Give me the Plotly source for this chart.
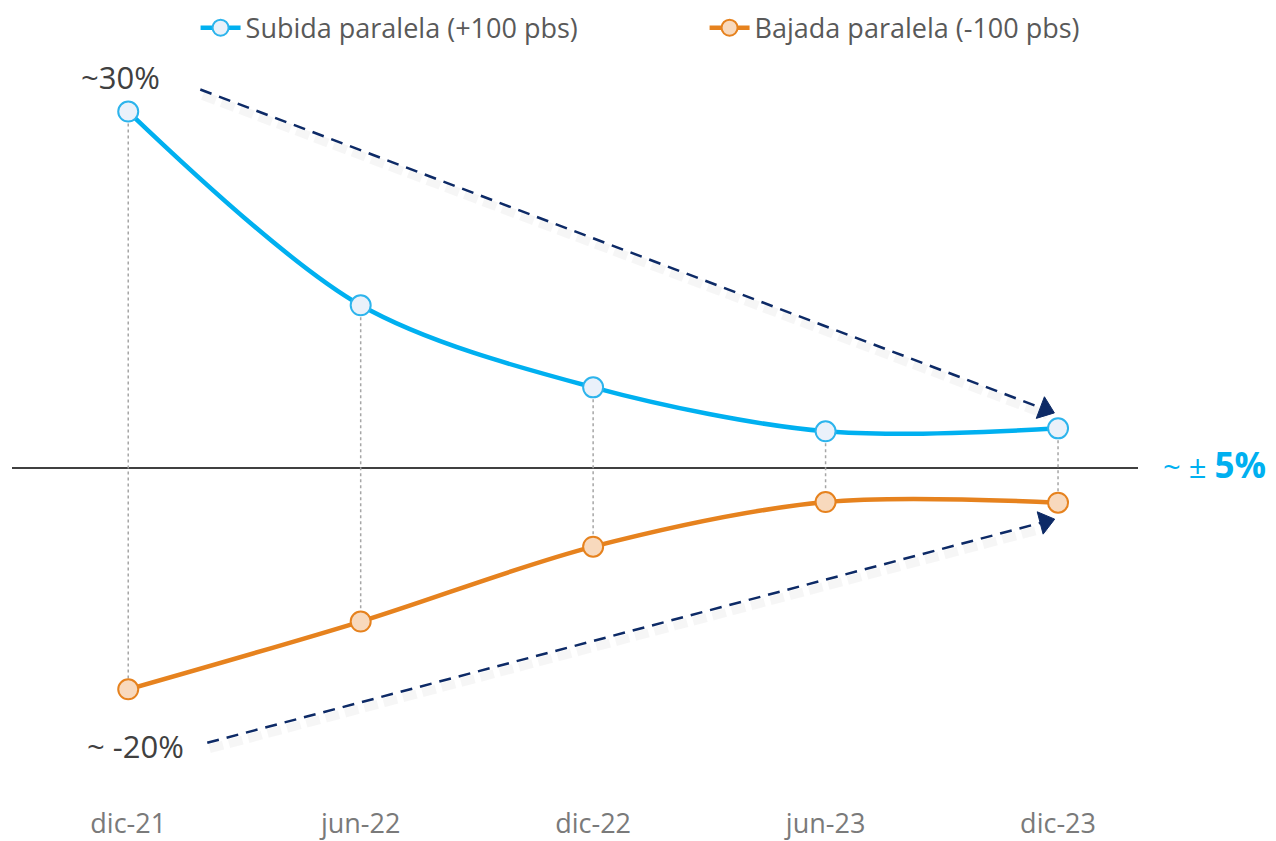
import plotly.graph_objects as go

categories = ["dic-21", "jun-22", "dic-22", "jun-23", "dic-23"]
subida = [30.0, 13.7, 6.8, 3.1, 3.35]
bajada = [-18.6, -12.9, -6.6, -2.85, -2.9]
series_names = ["Subida paralela (+100 pbs)", "Bajada paralela (-100 pbs)"]

xi = list(range(len(categories)))
FONT = "Open Sans"

fig = go.Figure()

# dotted vertical connectors
vx, vy = [], []
for i in xi:
    vx += [i, i, None]
    vy += [subida[i], bajada[i], None]
fig.add_trace(go.Scatter(x=vx, y=vy, mode="lines", showlegend=False, hoverinfo="skip",
                         line=dict(color="#A6A6A6", width=1.5, dash="dot")))

# trend arrows (annotation-style)
arrows = [
    dict(x=[0.31, 3.944], y=[31.85, 4.95]),
    dict(x=[0.34, 3.944], y=[-23.1, -4.5]),
]
for a in arrows:
    # soft shadow
    fig.add_trace(go.Scatter(x=[v + 0.01 for v in a["x"]], y=[v - 0.5 for v in a["y"]], mode="lines",
                             showlegend=False, hoverinfo="skip",
                             line=dict(color="rgba(0,0,0,0.035)", width=9, dash="14px,6px")))
    fig.add_trace(go.Scatter(x=a["x"], y=a["y"], mode="lines+markers", showlegend=False, hoverinfo="skip",
                             line=dict(color="#0D2A66", width=2.5, dash="12px,8px"),
                             marker=dict(symbol="triangle-up", size=[0, 20], angleref="previous",
                                         color="#0D2A66", opacity=1, line=dict(width=1, color="#0D2A66"))))

fig.add_trace(go.Scatter(x=xi, y=subida, name=series_names[0], mode="lines+markers",
                         line=dict(color="#00B0F0", width=4.5, shape="spline", smoothing=0.9),
                         marker=dict(size=20, color="#EAF1FA", line=dict(color="#2DB4EC", width=2))))
fig.add_trace(go.Scatter(x=xi, y=bajada, name=series_names[1], mode="lines+markers",
                         line=dict(color="#E6821E", width=4.5, shape="spline", smoothing=0.9),
                         marker=dict(size=20, color="#F8D9BD", line=dict(color="#E6821E", width=2))))

fig.add_annotation(x=-0.034, y=32.9, text="~30%", showarrow=False,
                   font=dict(family=FONT, size=31, color="#404040"))
fig.add_annotation(x=0.03, y=-23.4, text="~ -20%", showarrow=False,
                   font=dict(family=FONT, size=31, color="#404040"))
fig.add_annotation(xref="paper", x=1.068, xanchor="center", y=0.3,
                   text="~ ± <b><span style='font-size:35px'>5%</span></b>", showarrow=False,
                   font=dict(family=FONT, size=31, color="#00B0F0"))

fig.update_layout(
    width=1276, height=841,
    paper_bgcolor="white", plot_bgcolor="white",
    margin=dict(l=4, r=146, t=42, b=44),
    font=dict(family=FONT),
    legend=dict(orientation="h", xref="container", yref="container", x=0.147, xanchor="left",
                y=0.976, yanchor="middle", font=dict(family=FONT, size=27, color="#595959"),
                itemwidth=40, entrywidth=454, entrywidthmode="pixels", traceorder="normal"),
    xaxis=dict(range=[-0.5, 4.344], tickmode="array", tickvals=xi, ticktext=categories,
               showgrid=False, zeroline=False, showline=False, ticks="", automargin=False,
               tickfont=dict(family=FONT, size=27, color="#7A7A7A")),
    yaxis=dict(range=[-28.33, 34.95], showgrid=False, showticklabels=False, zeroline=True,
               zerolinecolor="#404040", zerolinewidth=1.5, showline=False, ticks="", automargin=False),
    showlegend=True,
)

fig.write_html("out.html")
